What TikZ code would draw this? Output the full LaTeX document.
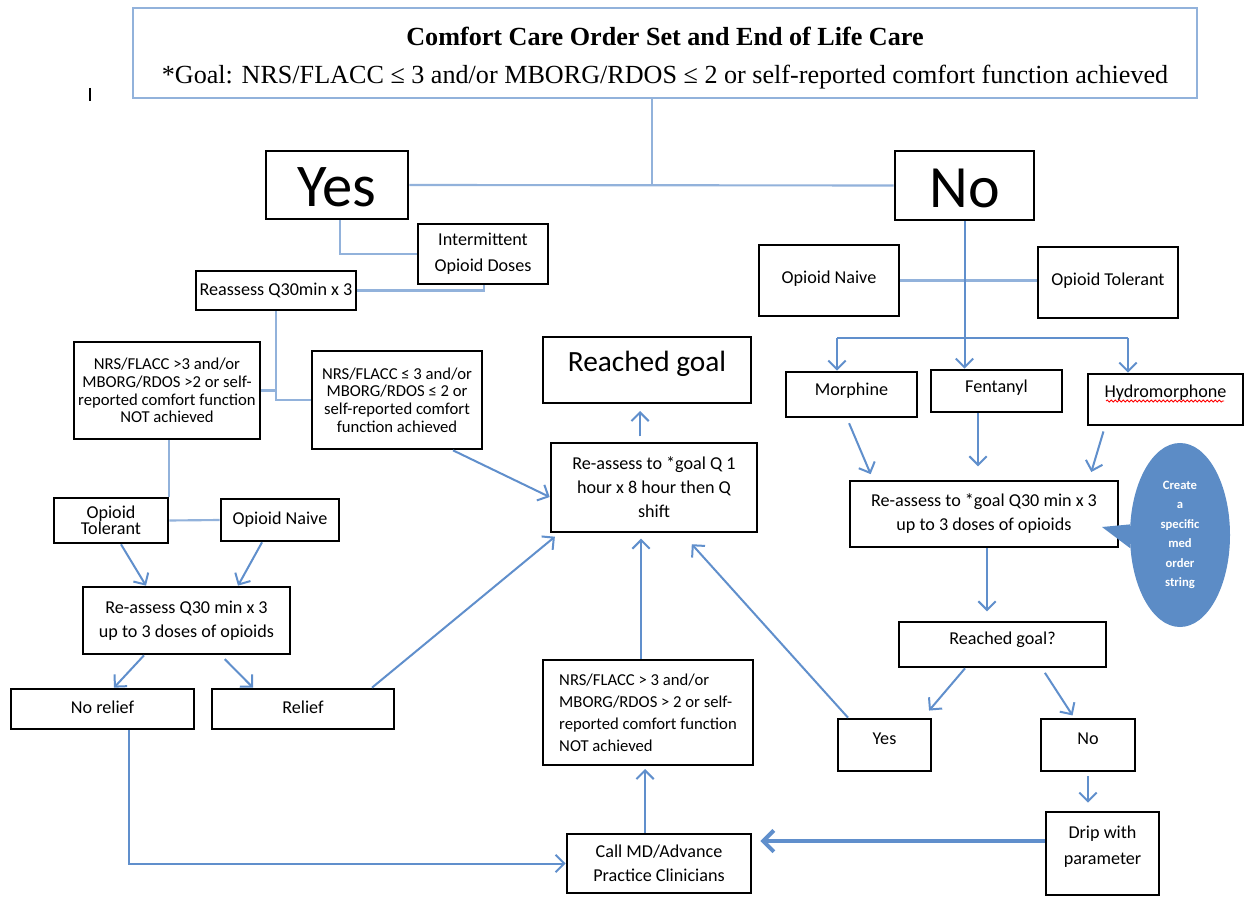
\documentclass[tikz,border=0pt]{standalone}
\usepackage{fontspec}
\setmainfont{Carlito}
\newfontfamily\titlefont{Liberation Serif}
\usetikzlibrary{arrows.meta,shapes.geometric,decorations.pathmorphing}
\definecolor{lcol}{RGB}{146,178,219}
\definecolor{acol}{RGB}{96,143,204}
\definecolor{bubblecol}{RGB}{92,140,198}
\newcommand\up[2]{\raisebox{#1}[\height][\depth]{#2}}
\tikzset{
  box/.style={draw=black, line width=2pt, inner sep=0pt, align=center, font=\fontsize{13.6}{16}\selectfont},
  bb/.style n args={4}{at={({(#1+#3)/2},{(#2+#4)/2})}, minimum width={(#3-#1)*0.75pt}, minimum height={(#4-#2)*0.75pt}},
  lline/.style={draw=lcol, line width=1.6pt},
  aline/.style={draw=acol, line width=1.5pt},
  arr/.style={draw=acol, line width=1.5pt, -{Straight Barb[length=6.5pt,width=13pt]}},
}
\begin{document}
\begin{tikzpicture}[x=0.75pt,y=-0.75pt]
\fill[white] (0,0) rectangle (1246,898);
\useasboundingbox (0,0) rectangle (1246,898);

% helper x positions
\foreach \n/\v in {p114/114,p121/121,p129/129,p144/144,p146/146,p221/221,p238/238,p253/253,p262/262,p340/340,p372/372,p453/453,p484/484,p559/559,p640/640,p641/641,p645/645,p652/652,p682/682,p848/848,p847/847,p873/873,p923/923,p965/965,p978/978,p987/987,p1042/1042,p1074/1074,p1088/1088,p1089/1089,p1105/1105}
  {\coordinate (\n) at (\v,0);}
\coordinate (y497) at (0,497);
\coordinate (y841) at (0,841);

% title
\node[box, draw=lcol, line width=2.2pt, bb={133}{8}{1197}{98}, font=\titlefont\fontsize{19.6}{28.5}\selectfont] (title)
  {\up{-2.6pt}{\begin{tabular}{@{}c@{}}\textbf{Comfort Care Order Set and End of Life Care}\\{*}Goal: NRS/FLACC ≤ 3 and/or MBORG/RDOS ≤ 2 or self-reported comfort function achieved\end{tabular}}};
\draw[line width=0.8pt] (90,88) -- (90,101);

% yes branch
\node[box, bb={266}{151}{408}{219}, font=\fontsize{45.5}{48}\selectfont] (yes) {\up{-2pt}{Yes}};
\node[box, bb={895}{151}{1034}{220}, font=\fontsize{45}{48}\selectfont] (no) {\up{-2pt}{No}};
\node[box, bb={418}{224}{548}{284}, font=\fontsize{13.6}{19.5}\selectfont] (inter) {Intermittent\\Opioid Doses};
\node[box, bb={196}{271}{356}{310}] (reas) {Reassess Q30min x 3};
\node[box, bb={74}{342}{260}{439}, font=\fontsize{12.5}{13.2}\selectfont] (nrsL) {NRS/FLACC >3 and/or\\MBORG/RDOS >2 or self-\\reported comfort function\\NOT achieved};
\node[box, bb={312}{351}{482}{449}, font=\fontsize{12.5}{13.2}\selectfont] (nrsM) {NRS/FLACC ≤ 3 and/or\\MBORG/RDOS ≤ 2 or\\self-reported comfort\\function achieved};
\node[box, bb={54}{498}{168}{543}, font=\fontsize{13.6}{12}\selectfont] (otL) {Opioid\\Tolerant};
\node[box, bb={221}{499}{339}{541}] (onL) {Opioid Naive};
\node[box, bb={83}{587}{290}{654}, font=\fontsize{13.6}{18}\selectfont] (raL) {Re-assess Q30 min x 3\\up to 3 doses of opioids};
\node[box, bb={11}{689}{194}{729}] (norel) {\up{1.5pt}{No relief}};
\node[box, bb={212}{689}{394}{729}] (relief) {\up{1.5pt}{Relief}};

% middle column
\node[box, bb={543}{337}{751}{403}, font=\fontsize{22}{26}\selectfont] (goal) {\up{4.5pt}{Reached goal}};
\node[box, bb={551}{443}{757}{532}, font=\fontsize{13.6}{18}\selectfont] (rgoal) {Re-assess to {*}goal Q 1\\hour x 8 hour then Q\\shift};
\node[box, bb={543}{660}{753}{765}, align=left, font=\fontsize{12.5}{16.5}\selectfont] (nrsC) {NRS/FLACC > 3 and/or\\MBORG/RDOS > 2 or self-\\reported comfort function\\NOT achieved};
\node[box, bb={567}{834}{751}{893}, font=\fontsize{13.6}{18}\selectfont] (call) {Call MD/Advance\\Practice Clinicians};

% no branch
\node[box, bb={759}{245}{899}{316}] (onR) {\up{1.5pt}{Opioid Naive}};
\node[box, bb={1038}{247}{1178}{318}] (otR) {\up{1.5pt}{Opioid Tolerant}};
\node[box, bb={786}{372}{917}{417}] (morph) {\up{3pt}{Morphine}};
\node[box, bb={931}{370}{1062}{412}] (fent) {\up{2.5pt}{Fentanyl}};
\node[box, bb={1088}{374}{1243}{425}] (hydro) {\up{5pt}{Hydromorphone}};
\draw[red, line width=0.6pt, decorate, decoration={snake, amplitude=0.8pt, segment length=3pt}] (1106,401) -- (1224,401);
\node[box, bb={850}{481}{1118}{547}, font=\fontsize{13.6}{18}\selectfont] (raR) {Re-assess to {*}goal Q30 min x 3\\up to 3 doses of opioids};
\node[box, bb={899}{622}{1106}{667}] (rgq) {\up{3.5pt}{Reached goal?}};
\node[box, bb={838}{719}{931}{771}] (yesR) {\up{5pt}{Yes}};
\node[box, bb={1041}{719}{1135}{771}] (noR) {\up{5pt}{No}};
\node[box, bb={1046}{812}{1159}{895}, font=\fontsize{13.6}{19.5}\selectfont] (drip) {\up{5.5pt}{\begin{tabular}{@{}c@{}}Drip with\\parameter\end{tabular}}};

% callout
\node[ellipse, fill=bubblecol, inner sep=0pt, minimum width=75pt, minimum height=138pt, align=center, text=white, font=\bfseries\fontsize{9.5}{14.6}\selectfont] (bubble) at (1180,535) {Create\\a\\specific\\med\\order\\string};
\coordinate (tip) at (1102,527);
\fill[bubblecol] (bubble.168) -- (tip) -- (bubble.195) -- cycle;

% connectors: top
\coordinate (t1) at (652,185);
\draw[lline] (title.south -| t1) -- (t1);
\draw[lline] (yes.east) -- (no.west);
\draw[lline] (yes.south -| p340) |- (inter.west);
\draw[lline] (inter.south -| p484) |- (reas.east);
\draw[lline] (reas.south) |- (nrsM.west);
\draw[lline] (nrsL.east) -- (nrsL.east -| reas.south);
\draw[lline] (nrsL.south -| otL.east) -- (otL.north east);
\draw[lline] (otL.east) -- (onL.west);

% left arrows
\draw[arr] (otL.south -| p121) -- (raL.north -| p146);
\draw[arr] (onL.south -| p262) -- (raL.north -| p238);
\draw[arr] (raL.south -| p144) -- (norel.north -| p114);
\draw[arr, shorten <=4pt] (raL.south -| p221) -- (relief.north -| p253);
\draw[arr] (norel.south -| p129) |- (call.west);
\draw[arr, shorten >=4pt] (relief.north -| p372) -- (rgoal.south -| p559);
\draw[arr] (nrsM.south -| p453) -- (rgoal.west |- y497);

% middle arrows
\draw[arr, shorten <=4pt, shorten >=5pt] (rgoal.north -| p640) -- (goal.south -| p640);
\draw[arr, shorten >=4pt] (nrsC.north -| p641) -- (rgoal.south -| p641);
\draw[arr, shorten >=2pt] (call.north -| p645) -- (nrsC.south -| p645);
\draw[draw=acol, line width=3pt, -{Straight Barb[length=8pt,width=16pt]}, shorten >=6pt] (drip.west |- y841) -- (call.east |- y841);
\draw[arr, shorten >=11pt] (yesR.north -| p848) -- (rgoal.south -| p682);

% no branch connectors
\coordinate (bl) at (837,338);
\coordinate (br) at (1128,338);
\draw[lline] (onR.east) -- (onR.east -| otR.west);
\draw[arr] (no.south) -- (fent.north -| no.south);
\draw[aline] (bl) -- (br);
\draw[arr] (bl) -- (morph.north -| bl);
\draw[arr] (br) -- (hydro.north -| br);
\draw[arr, shorten <=4pt, shorten >=4.5pt] (morph.south -| p847) -- (raR.north -| p873);
\draw[arr, shorten >=10pt] (fent.south -| p978) -- (raR.north -| p978);
\draw[arr, shorten <=4pt, shorten >=6pt] (hydro.south -| p1105) -- (raR.north -| p1089);
\draw[arr, shorten >=7pt] (raR.south -| p987) -- (rgq.north -| p987);
\draw[arr, shorten >=7pt] (rgq.south -| p965) -- (yesR.north -| p923);
\draw[arr, shorten <=4pt, shorten >=2pt] (rgq.south -| p1042) -- (noR.north -| p1074);
\draw[arr, shorten <=3pt, shorten >=6pt] (noR.south -| p1088) -- (drip.north -| p1088);
\end{tikzpicture}
\end{document}
